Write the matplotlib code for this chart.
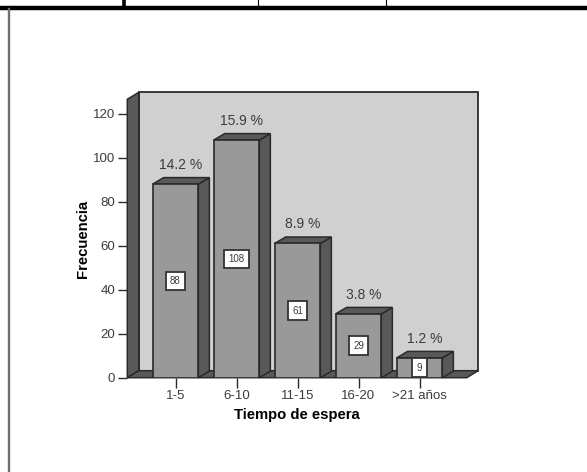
import matplotlib
matplotlib.use('Agg')
import matplotlib.pyplot as plt
from matplotlib.patches import Polygon

plt.rcParams['font.family'] = ['Liberation Sans', 'DejaVu Sans']

# ── Data ─────────────────────────────────────────────
categories = ['1-5', '6-10', '11-15', '16-20', '>21 años']
counts     = [88, 108, 61, 29, 9]
percents   = ['14.2 %', '15.9 %', '8.9 %', '3.8 %', '1.2 %']
y_ticks    = [0, 20, 40, 60, 80, 100, 120]

W, H = 587, 472
FRONT  = '#999999'
SHADE  = '#595959'
WALL   = '#d0d0d0'
EDGE   = '#2a2a2a'
TXT    = '#3c3c3c'

fig = plt.figure(figsize=(W / 100, H / 100), dpi=100)

# page furniture: table rules from the document around the chart
bg = fig.add_axes([0, 0, 1, 1])
bg.set_xlim(0, W)
bg.set_ylim(H, 0)
bg.axis('off')
bg.axhline(8, color='black', lw=3.2)
bg.plot([124, 124], [0, 8], color='black', lw=2.6)
bg.plot([257.7, 257.7], [0, 8], color='black', lw=0.8)
bg.plot([386, 386], [0, 8], color='black', lw=0.8)
bg.plot([9, 9], [9, H], color='#707070', lw=1.7)

# chart axes = front plane of the 3D box
x0, x1, y0, y1 = 127.3, 466.7, 377.7, 99.3
ax = fig.add_axes([x0 / W, 1 - y0 / H, (x1 - x0) / W, (y0 - y1) / H])
ax.patch.set_alpha(0)
x_unit = 61.0
y_unit = 2.2
ax.set_xlim((x0 - 175.5) / x_unit, (x1 - 175.5) / x_unit)
ax.set_ylim(0, (y0 - y1) / y_unit)
for s in ax.spines.values():
    s.set_visible(False)

xl = ax.get_xlim()
yl = ax.get_ylim()
dx_w, dy_w = 11.5 / x_unit, 7 / y_unit      # depth of the walls
dx_b, dy_b = 11 / x_unit, 6.5 / y_unit      # depth of the bars


def poly(pts, color, z, lw=1.1):
    ax.add_patch(Polygon(pts, closed=True, facecolor=color, edgecolor=EDGE,
                         lw=lw, zorder=z, clip_on=False, joinstyle='miter'))


# back wall, left wall, floor
poly([(xl[0] + dx_w, dy_w), (xl[1] + dx_w, dy_w),
      (xl[1] + dx_w, yl[1] + dy_w), (xl[0] + dx_w, yl[1] + dy_w)], WALL, 1, 1.3)
poly([(xl[0], 0), (xl[0] + dx_w, dy_w),
      (xl[0] + dx_w, yl[1] + dy_w), (xl[0], yl[1])], SHADE, 2)
poly([(xl[0], 0), (xl[1], 0), (xl[1] + dx_w, dy_w), (xl[0] + dx_w, dy_w)], SHADE, 2)

# bars
bw = 45.7 / x_unit
for i, (c, p) in enumerate(zip(counts, percents)):
    l, r = i - bw / 2, i + bw / 2
    poly([(r, 0), (r + dx_b, dy_b), (r + dx_b, c + dy_b), (r, c)], SHADE, 3 + i)
    poly([(l, c), (r, c), (r + dx_b, c + dy_b), (l + dx_b, c + dy_b)], SHADE, 3 + i)
    ax.bar(i, c, width=bw, color=FRONT, edgecolor=EDGE, lw=1.2, zorder=3.5 + i)
    ax.text(i, c / 2, str(c), ha='center', va='center', fontsize=7, color=TXT,
            zorder=20,
            bbox=dict(boxstyle='square,pad=0.45', fc='white', ec='#333333', lw=1.3))
    ax.annotate(p, (i + dx_b / 2, c + dy_b), xytext=(0, 4), textcoords='offset points',
                ha='center', va='bottom', fontsize=10, color=TXT, zorder=20)

ax.set_xticks(range(len(categories)))
ax.set_xticklabels(categories, fontsize=9.5, color=TXT)
ax.set_yticks(y_ticks)
ax.set_yticklabels([str(v) for v in y_ticks], fontsize=9.5, color=TXT)
ax.tick_params(axis='x', length=7, width=1, color=EDGE, pad=2)
ax.tick_params(axis='y', length=6.3, width=1, color=EDGE, pad=2.5)
ax.set_xlabel('Tiempo de espera', fontsize=10.7, fontweight='bold', color='black', labelpad=4)
ax.set_ylabel('Frecuencia', fontsize=10.7, fontweight='bold', color='black', labelpad=2)

fig.savefig('out.png', dpi=100)
